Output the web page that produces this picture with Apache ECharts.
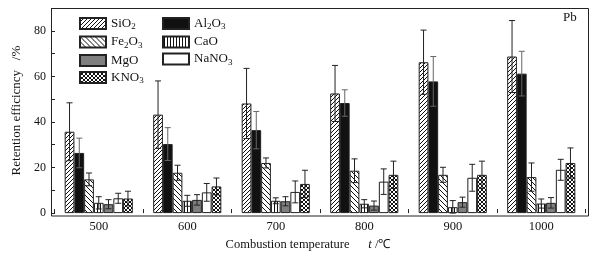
<!DOCTYPE html>
<html><head><meta charset="utf-8">
<script src="https://cdn.jsdelivr.net/npm/echarts@6/dist/echarts.min.js"></script>
<style>html,body{margin:0;padding:0;background:#fff}#c{width:615px;height:256px}</style>
</head><body><div id="c"></div>
<script>
var categories = ['500','600','700','800','900','1000'];
var seriesNames = ['SiO2','Al2O3','Fe2O3','CaO','MgO','NaNO3','KNO3'];
var SiO2  = [35.7, 43.2, 48.1, 52.5, 66.2, 68.7];
var SiO2Err = [12.7, 14.8, 15.4, 12.3, 14.1, 15.8];
var Al2O3 = [26.4, 30.3, 36.4, 48.3, 57.8, 61.2];
var Al2O3Err = [6.5, 7.2, 8.2, 5.8, 10.9, 9.8];
var Fe2O3 = [14.8, 17.7, 22.0, 18.6, 16.8, 15.8];
var Fe2O3Err = [2.8, 3.3, 2.2, 5.2, 3.3, 6.2];
var CaO   = [4.5, 5.4, 5.4, 4.1, 2.6, 4.2];
var CaOErr = [2.7, 2.4, 1.3, 1.8, 2.9, 2.0];
var MgO   = [3.9, 5.8, 5.2, 3.3, 4.8, 4.5];
var MgOErr = [2.0, 2.3, 2.0, 2.0, 2.2, 2.3];
var NaNO3 = [6.5, 9.1, 9.3, 13.8, 15.5, 19.0];
var NaNO3Err = [2.2, 3.9, 4.8, 5.6, 5.9, 4.6];
var KNO3  = [6.4, 11.7, 12.8, 16.8, 16.8, 22.0];
var KNO3Err = [3.2, 3.7, 6.0, 6.0, 6.0, 6.6];
var yTicks = [0, 20, 40, 60, 80];

var values = [SiO2, Al2O3, Fe2O3, CaO, MgO, NaNO3, KNO3];
var errors = [SiO2Err, Al2O3Err, Fe2O3Err, CaOErr, MgOErr, NaNO3Err, KNO3Err];

function pattern(kind){
  var s = {fwd:4, back:5, vert:3, check:4}[kind];
  var cv = document.createElement('canvas'); cv.width = s; cv.height = s;
  var g = cv.getContext('2d');
  g.fillStyle = '#fff'; g.fillRect(0,0,s,s);
  g.strokeStyle = '#111'; g.lineWidth = 1;
  g.beginPath();
  if (kind === 'fwd' || kind === 'check') {
    g.moveTo(-1, s+1); g.lineTo(s+1, -1);
    g.moveTo(-1, 1); g.lineTo(1, -1);
    g.moveTo(s-1, s+1); g.lineTo(s+1, s-1);
  }
  if (kind === 'back' || kind === 'check') {
    g.moveTo(-1, -1); g.lineTo(s+1, s+1);
    g.moveTo(s-1, -1); g.lineTo(s+1, 1);
    g.moveTo(-1, s-1); g.lineTo(1, s+1);
  }
  if (kind === 'vert') { g.moveTo(1.5, 0); g.lineTo(1.5, s); }
  g.stroke();
  return {image: cv, repeat: 'repeat'};
}
var fills = [pattern('fwd'), '#111111', pattern('back'), pattern('vert'), '#7f7f7f', '#ffffff', pattern('check')];

var nBars = seriesNames.length;
var gapRatio = 0.23;
var FONT = '"Liberation Serif","Times New Roman",serif';

var series = [];
seriesNames.forEach(function(name, i){
  series.push({
    name: name, type: 'bar', data: values[i],
    barGap: 0, barCategoryGap: '23%',
    itemStyle: {color: fills[i], borderColor: '#222', borderWidth: 1},
    emphasis: {disabled: true}, animation: false
  });
});
seriesNames.forEach(function(name, i){
  var d = values[i].map(function(v, k){ return [k, v, errors[i][k]]; });
  series.push({
    name: name + '_err', type: 'custom', data: d, z: 5, animation: false, silent: true,
    encode: {x: 0, y: 1},
    renderItem: function(params, api){
      var k = api.value(0), v = api.value(1), e = api.value(2);
      var band = api.size([1, 0])[0];
      var bw = band * (1 - gapRatio) / nBars;
      var c = api.coord([k, v]);
      var x = c[0] - bw * nBars / 2 + bw * (i + 0.5);
      var top = api.coord([k, v + e])[1];
      var bot = api.coord([k, Math.max(v - e, 0)])[1];
      var hw = 3;
      var st = {stroke: i === 1 ? '#666' : '#222', lineWidth: 1};
      return {type: 'group', children: [
        {type: 'line', shape: {x1: x, y1: top, x2: x, y2: bot}, style: st},
        {type: 'line', shape: {x1: x - hw, y1: top, x2: x + hw, y2: top}, style: st},
        {type: 'line', shape: {x1: x - hw, y1: bot, x2: x + hw, y2: bot}, style: st}
      ]};
    }
  });
});

function sub(name){ return name.replace(/(\d)/g, '{s|$1}'); }
var legendText = {
  fontFamily: FONT, fontSize: 13, color: '#111',
  rich: {s: {fontFamily: FONT, fontSize: 9, color: '#111', padding: [7, 0, 0, 0]}}
};

var chart = echarts.init(document.getElementById('c'), null, {renderer: 'canvas'});
chart.setOption({
  animation: false,
  backgroundColor: '#fff',
  grid: {left: 54.5, right: 29.5, top: 8, bottom: 40, containLabel: false},
  legend: [
    {data: ['SiO2','Fe2O3','MgO','KNO3'], orient: 'vertical', left: 74, top: 12,
     itemWidth: 26, itemHeight: 11, itemGap: 4, icon: 'rect', selectedMode: false,
     formatter: sub, textStyle: legendText},
    {data: ['Al2O3','CaO','NaNO3'], orient: 'vertical', left: 157, top: 12,
     itemWidth: 26, itemHeight: 11, itemGap: 4, icon: 'rect', selectedMode: false,
     formatter: sub, textStyle: legendText}
  ],
  xAxis: {
    type: 'category', data: categories,
    axisLine: {show: false},
    axisTick: {show: true, inside: true, length: 4, lineStyle: {color: '#222'}},
    axisLabel: {fontFamily: FONT, fontSize: 12.5, color: '#111', margin: 7},
    name: 'Combustion temperature      {i|t} /℃', nameLocation: 'middle', nameGap: 20,
    nameTextStyle: {fontFamily: FONT, fontSize: 12.5, color: '#111', padding: [0, 24, 0, 0],
      rich: {i: {fontFamily: FONT, fontSize: 12.5, fontStyle: 'italic', color: '#111'}}}
  },
  yAxis: {
    type: 'value', min: 0, max: 90, interval: 10, offset: 3.5,
    axisLine: {show: false},
    axisTick: {show: true, inside: true, length: 4, lineStyle: {color: '#222'}},
    splitLine: {show: false},
    axisLabel: {fontFamily: FONT, fontSize: 12, color: '#111', margin: 5,
      formatter: function(v){ return yTicks.indexOf(v) >= 0 ? String(v) : ''; }},
    name: 'Retention efficicncy   /%', nameLocation: 'middle', nameGap: 21,
    nameTextStyle: {fontFamily: FONT, fontSize: 13, color: '#111'}
  },
  graphic: [
    {type: 'rect', shape: {x: 51.5, y: 8.5, width: 537, height: 207.5}, z: 10, silent: true,
     style: {fill: 'none', stroke: '#222', lineWidth: 1}},
    {type: 'text', x: 563, y: 11, z: 10, silent: true,
     style: {text: 'Pb', font: '13px ' + FONT, fill: '#111'}}
  ],
  series: series
});
</script></body></html>
